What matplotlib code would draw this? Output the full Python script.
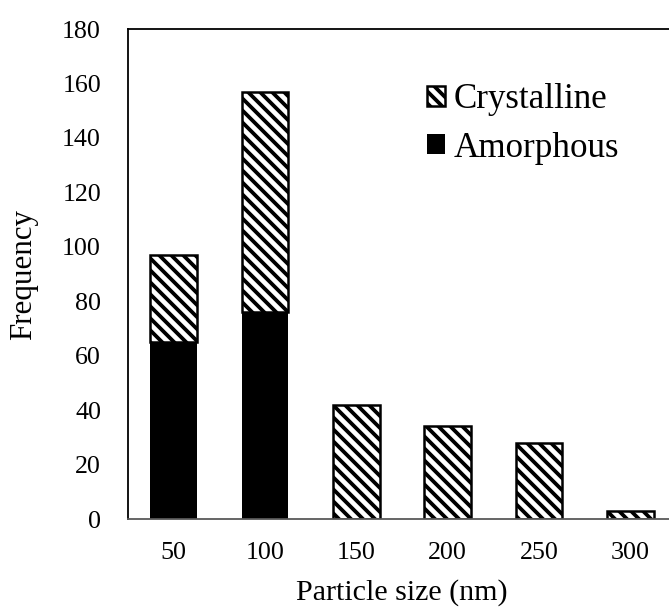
import matplotlib
matplotlib.use("Agg")
import matplotlib.pyplot as plt
import numpy as np

# Particle-size histogram, split by phase
sizes = ["50", "100", "150", "200", "250", "300"]
amorphous = [65, 76, 0, 0, 0, 0]
crystalline = [32, 81, 42, 34, 28, 3]

plt.rcParams["font.family"] = ["Liberation Serif", "DejaVu Serif"]
plt.rcParams["hatch.linewidth"] = 3.8
plt.rcParams["hatch.color"] = "black"

DPI = 72
fig = plt.figure(figsize=(669 / DPI, 612 / DPI), dpi=DPI)
ax = fig.add_axes([128 / 669, 1 - 519 / 612, 548 / 669, 490 / 612])

x = np.arange(len(sizes))
width = 0.513
ax.bar(x, amorphous, width, color="black", edgecolor="black", linewidth=0,
       label="Amorphous", zorder=2)
ax.bar(x, crystalline, width, bottom=amorphous, color="white",
       edgecolor="black", linewidth=2.5, hatch="\\\\", label="Crystalline",
       zorder=2)

ax.set_xlim(-0.5, len(sizes) - 0.5)
ax.set_ylim(0, 180)
ax.set_yticks(np.arange(0, 181, 20))
ax.set_xticks(x)
ax.set_xticklabels(sizes)
ax.tick_params(axis="both", length=0, labelsize=26)
ax.tick_params(axis="y", pad=27)
ax.tick_params(axis="x", pad=23)

for side in ("left", "top", "right"):
    ax.spines[side].set_color("black")
    ax.spines[side].set_linewidth(1.8)
ax.spines["bottom"].set_color("#595959")
ax.spines["bottom"].set_linewidth(1.8)

ax.set_xlabel("Particle size (nm)", fontsize=30, labelpad=15)
ax.set_ylabel("Frequency", fontsize=31, labelpad=24)

handles, labels = ax.get_legend_handles_labels()
leg = ax.legend(handles[::-1], labels[::-1], loc="upper left",
                bbox_to_anchor=((427 - 128) / 548, (519 - 83) / 490),
                frameon=False, fontsize=35, handlelength=0.52,
                handleheight=0.5, handletextpad=0.24, labelspacing=0.45,
                borderaxespad=0, borderpad=0)

fig.savefig("out.png", dpi=DPI)
